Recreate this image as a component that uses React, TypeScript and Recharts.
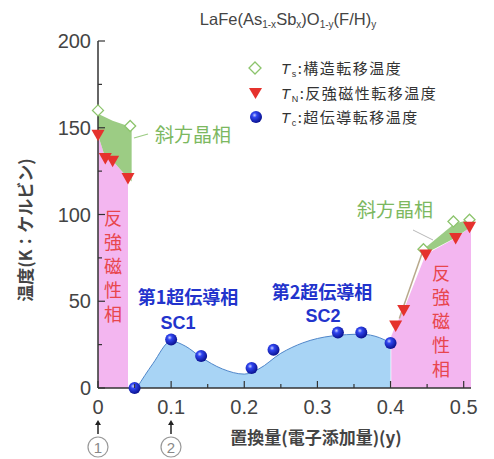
import React from "react";
import { ComposedChart, Area, Line, Scatter, XAxis, YAxis } from "recharts";

// Ts: structural transition (open diamonds)
const tsPoints = [
  { x: 0, y: 160 },
  { x: 0.044, y: 151 },
  { x: 0.445, y: 80 },
  { x: 0.486, y: 96 },
  { x: 0.508, y: 97 },
];

// TN: antiferromagnetic transition (red triangles)
const tnPoints = [
  { x: 0, y: 146 },
  { x: 0.01, y: 132.5 },
  { x: 0.02, y: 131 },
  { x: 0.041, y: 121 },
  { x: 0.407, y: 36 },
  { x: 0.418, y: 45 },
  { x: 0.448, y: 77 },
  { x: 0.489, y: 86.5 },
  { x: 0.508, y: 93 },
];

// Tc: superconducting transition (blue spheres)
const tcPoints = [
  { x: 0.05, y: 0 },
  { x: 0.1, y: 28 },
  { x: 0.141, y: 18.5 },
  { x: 0.21, y: 11.5 },
  { x: 0.24, y: 22 },
  { x: 0.328, y: 32 },
  { x: 0.36, y: 32 },
  { x: 0.4, y: 26 },
];

// shaded phase regions
const afmLeft = [
  { x: 0, v: 146 },
  { x: 0.01, v: 132.5 },
  { x: 0.02, v: 131 },
  { x: 0.041, v: 121 },
];
const orthoLeft = [
  { x: 0, r: [146, 158] },
  { x: 0.01, r: [132.5, 156] },
  { x: 0.02, r: [131, 154] },
  { x: 0.041, r: [121, 151] },
  { x: 0.046, r: [119, 150] },
];
const scDome = [
  { x: 0.053, v: 0 },
  { x: 0.075, v: 14 },
  { x: 0.1, v: 27 },
  { x: 0.12, v: 24 },
  { x: 0.14, v: 18 },
  { x: 0.17, v: 11 },
  { x: 0.2, v: 8 },
  { x: 0.22, v: 11 },
  { x: 0.25, v: 20 },
  { x: 0.28, v: 26 },
  { x: 0.32, v: 30 },
  { x: 0.36, v: 31 },
  { x: 0.385, v: 29 },
  { x: 0.4, v: 26 },
];
const afmRight = [
  { x: 0.401, v: 30 },
  { x: 0.407, v: 36 },
  { x: 0.418, v: 45 },
  { x: 0.448, v: 77 },
  { x: 0.489, v: 86.5 },
  { x: 0.51, v: 93 },
];
const orthoRight = [
  { x: 0.445, r: [77, 80] },
  { x: 0.488, r: [86.5, 95] },
  { x: 0.51, r: [93, 97] },
];
const tsGuide = [
  { x: 0.412, v: 40 },
  { x: 0.445, v: 80 },
];

const xTicks = [0, 0.05, 0.1, 0.15, 0.2, 0.25, 0.3, 0.35, 0.4, 0.45, 0.5];
const yTicks = [0, 25, 50, 75, 100, 125, 150, 175, 200];
const xMajor = [0, 0.1, 0.2, 0.3, 0.4, 0.5];
const yMajor = [0, 50, 100, 150, 200];

const AXIS = "#333";
const FONT = "'Liberation Sans', Arial, sans-serif";
const CJK = "'Noto Sans CJK JP', sans-serif";

const isMajor = (v: number, list: number[]) => list.some((m) => Math.abs(m - v) < 1e-6);

const BottomTick = (props: any) => {
  const { x, y, payload } = props;
  const major = isMajor(payload.value, xMajor);
  return (
    <g>
      <line x1={x} y1={y} x2={x} y2={y - (major ? 7 : 4)} stroke={AXIS} strokeWidth={1.2} />
      {major && (
        <text x={x} y={y + 26} textAnchor="middle" fontSize={20} fill="#444" fontFamily={FONT}>
          {String(payload.value)}
        </text>
      )}
    </g>
  );
};

const TopTick = (props: any) => {
  const { x, y, payload } = props;
  const major = isMajor(payload.value, xMajor);
  return <line x1={x} y1={y} x2={x} y2={y + (major ? 7 : 4)} stroke={AXIS} strokeWidth={1.2} />;
};

const LeftTick = (props: any) => {
  const { x, y, payload } = props;
  const major = isMajor(payload.value, yMajor);
  return (
    <g>
      <line x1={x} y1={y} x2={x + (major ? 7 : 4)} y2={y} stroke={AXIS} strokeWidth={1.2} />
      {major && (
        <text x={x - 7} y={y + 7} textAnchor="end" fontSize={20} fill="#444" fontFamily={FONT}>
          {String(payload.value)}
        </text>
      )}
    </g>
  );
};

const RightTick = (props: any) => {
  const { x, y, payload } = props;
  const major = isMajor(payload.value, yMajor);
  return <line x1={x} y1={y} x2={x - (major ? 7 : 4)} y2={y} stroke={AXIS} strokeWidth={1.2} />;
};

const Diamond = (props: any) => {
  const { cx, cy } = props;
  const s = 5.5;
  return (
    <polygon
      points={`${cx},${cy - s} ${cx + s},${cy} ${cx},${cy + s} ${cx - s},${cy}`}
      fill="#fff"
      stroke="#8cc46c"
      strokeWidth={1.3}
    />
  );
};

const Triangle = (props: any) => {
  const { cx, cy } = props;
  return (
    <polygon
      points={`${cx - 6.5},${cy - 5} ${cx + 6.5},${cy - 5} ${cx},${cy + 6.5}`}
      fill="#e5322d"
    />
  );
};

const Sphere = (props: any) => {
  const { cx, cy } = props;
  return <circle cx={cx} cy={cy} r={6} fill="url(#sphereGrad)" />;
};

const VerticalText = ({ x, y, chars, color, step }: any) => (
  <g>
    {chars.split("").map((c: string, i: number) => (
      <text
        key={i}
        x={x}
        y={y + i * step}
        textAnchor="middle"
        fontSize={18}
        fill={color}
        fontFamily={CJK}
      >
        {c}
      </text>
    ))}
  </g>
);

export default function App() {
  return (
    <div style={{ position: "absolute", left: 0, top: 0, width: 494, height: 459, background: "#fff" }}>
      <ComposedChart
        width={494}
        height={459}
        margin={{ top: 41, right: 23, left: 38, bottom: 41 }}
      >
        <defs>
          <radialGradient id="sphereGrad" cx="38%" cy="35%" r="65%">
            <stop offset="0%" stopColor="#c9d0ff" />
            <stop offset="30%" stopColor="#3045f0" />
            <stop offset="100%" stopColor="#0a1290" />
          </radialGradient>
        </defs>
        <XAxis
          dataKey="x"
          type="number"
          domain={[0, 0.51]}
          ticks={xTicks}
          height={30}
          tickSize={0}
          tickMargin={0}
          tick={<BottomTick />}
          axisLine={{ stroke: AXIS, strokeWidth: 1.5 }}
          interval={0}
        />
        <XAxis
          xAxisId="top"
          orientation="top"
          dataKey="x"
          type="number"
          domain={[0, 0.51]}
          ticks={xTicks}
          height={0}
          tickSize={0}
          tickMargin={0}
          tick={<TopTick />}
          axisLine={{ stroke: AXIS, strokeWidth: 1.5 }}
          interval={0}
        />
        <YAxis
          type="number"
          domain={[0, 200]}
          ticks={yTicks}
          width={60}
          tickSize={0}
          tickMargin={0}
          tick={<LeftTick />}
          axisLine={{ stroke: AXIS, strokeWidth: 1.5 }}
          interval={0}
        />
        <YAxis
          yAxisId="right"
          orientation="right"
          type="number"
          domain={[0, 200]}
          ticks={yTicks}
          width={0}
          tickSize={0}
          tickMargin={0}
          tick={<RightTick />}
          axisLine={{ stroke: AXIS, strokeWidth: 1.5 }}
          interval={0}
        />

        <Area data={afmLeft} dataKey="v" type="linear" fill="#f3b6f0" fillOpacity={1} stroke="none" isAnimationActive={false} />
        <Area data={orthoLeft} dataKey="r" type="linear" fill="#9ccc84" fillOpacity={1} stroke="none" isAnimationActive={false} />
        <Area data={afmRight} dataKey="v" type="linear" fill="#f3b6f0" fillOpacity={1} stroke="none" isAnimationActive={false} />
        <Area data={orthoRight} dataKey="r" type="linear" fill="#9ccc84" fillOpacity={1} stroke="none" isAnimationActive={false} />
        <Area
          data={scDome}
          dataKey="v"
          type="monotone"
          fill="#a8d4f5"
          fillOpacity={1}
          stroke="#4f86c9"
          strokeWidth={1}
          isAnimationActive={false}
        />
        <Line data={tsGuide} dataKey="v" type="linear" stroke="#b8a98c" strokeWidth={1.5} dot={false} isAnimationActive={false} />

        <Scatter data={tsPoints} dataKey="y" shape={<Diamond />} isAnimationActive={false} />
        <Scatter data={tnPoints} dataKey="y" shape={<Triangle />} isAnimationActive={false} />
        <Scatter data={tcPoints} dataKey="y" shape={<Sphere />} isAnimationActive={false} />
      </ComposedChart>

      <svg
        width={494}
        height={459}
        style={{ position: "absolute", left: 0, top: 0, pointerEvents: "none" }}
      >
        <defs>
          <radialGradient id="legendSphere" cx="38%" cy="35%" r="65%">
            <stop offset="0%" stopColor="#c9d0ff" />
            <stop offset="30%" stopColor="#3045f0" />
            <stop offset="100%" stopColor="#0a1290" />
          </radialGradient>
        </defs>

        {/* title */}
        <text x={288} y={25} textAnchor="middle" fontSize={16.5} fill="#444" fontFamily={FONT}>
          LaFe(As
          <tspan fontSize={10} dy={3}>1-x</tspan>
          <tspan dy={-3}>Sb</tspan>
          <tspan fontSize={10} dy={3}>x</tspan>
          <tspan dy={-3}>)O</tspan>
          <tspan fontSize={10} dy={3}>1-y</tspan>
          <tspan dy={-3}>(F/H)</tspan>
          <tspan fontSize={10} dy={3}>y</tspan>
        </text>

        {/* legend */}
        <polygon points="255,62 261,68 255,74 249,68" fill="#fff" stroke="#8cc46c" strokeWidth={1.3} />
        <polygon points="249,88 262,88 255.5,99" fill="#e5322d" />
        <circle cx={256} cy={117} r={6} fill="url(#legendSphere)" />
        <g fontSize={15} fill="#333" fontFamily={CJK} letterSpacing={1.5}>
          <text x={281} y={74}>
            <tspan fontStyle="italic" fontFamily={FONT}>T</tspan>
            <tspan fontSize={9} dy={3} fontFamily={FONT}>s</tspan>
            <tspan dy={-3}>:構造転移温度</tspan>
          </text>
          <text x={281} y={99}>
            <tspan fontStyle="italic" fontFamily={FONT}>T</tspan>
            <tspan fontSize={9} dy={3} fontFamily={FONT}>N</tspan>
            <tspan dy={-3}>:反強磁性転移温度</tspan>
          </text>
          <text x={281} y={123}>
            <tspan fontStyle="italic" fontFamily={FONT}>T</tspan>
            <tspan fontSize={9} dy={3} fontFamily={FONT}>c</tspan>
            <tspan dy={-3}>:超伝導転移温度</tspan>
          </text>
        </g>

        {/* phase labels */}
        <line x1={134} y1={138} x2={148} y2={134} stroke="#9ccc84" strokeWidth={1.2} />
        <text x={155} y={142} fontSize={19} fill="#7cb860" fontFamily={CJK}>斜方晶相</text>
        <text x={357} y={217} fontSize={19} fill="#7cb860" fontFamily={CJK}>斜方晶相</text>
        <line x1={413} y1={230} x2={433} y2={240} stroke="#b8b8b8" strokeWidth={1} />

        <VerticalText x={113} y={225} chars="反強磁性相" color="#e8464e" step={24} />
        <VerticalText x={441} y={280} chars="反強磁性相" color="#e8464e" step={24} />

        <text x={188} y={304} textAnchor="middle" fontSize={18} fontWeight="bold" fill="#2233cc" fontFamily={CJK}>
          第1超伝導相
        </text>
        <text x={178} y={329} textAnchor="middle" fontSize={18} fontWeight="bold" fill="#2233cc" fontFamily={FONT}>
          SC1
        </text>
        <text x={322} y={299} textAnchor="middle" fontSize={18} fontWeight="bold" fill="#2233cc" fontFamily={CJK}>
          第2超伝導相
        </text>
        <text x={323} y={322} textAnchor="middle" fontSize={18} fontWeight="bold" fill="#2233cc" fontFamily={FONT}>
          SC2
        </text>

        {/* axis titles */}
        <text
          transform="translate(32,230) rotate(-90)"
          textAnchor="middle"
          fontSize={17}
          fontWeight="bold"
          fill="#444"
          fontFamily={CJK}
        >
          温度(K：ケルビン)
        </text>
        <text x={316} y={444} textAnchor="middle" fontSize={17} fontWeight="bold" fill="#444" fontFamily={CJK}>
          置換量(電子添加量)(y)
        </text>

        {/* sample markers */}
        {[98, 171].map((ax, i) => (
          <g key={i}>
            <line x1={ax} y1={423} x2={ax} y2={434} stroke="#222" strokeWidth={1.5} />
            <polygon points={`${ax - 3},${425} ${ax + 3},${425} ${ax},${420}`} fill="#222" />
            <circle cx={ax} cy={447} r={10} fill="none" stroke="#999" strokeWidth={1.2} />
            <text x={ax} y={452.5} textAnchor="middle" fontSize={15} fill="#888" fontFamily={FONT}>
              {i === 0 ? "1" : "2"}
            </text>
          </g>
        ))}
      </svg>
    </div>
  );
}
